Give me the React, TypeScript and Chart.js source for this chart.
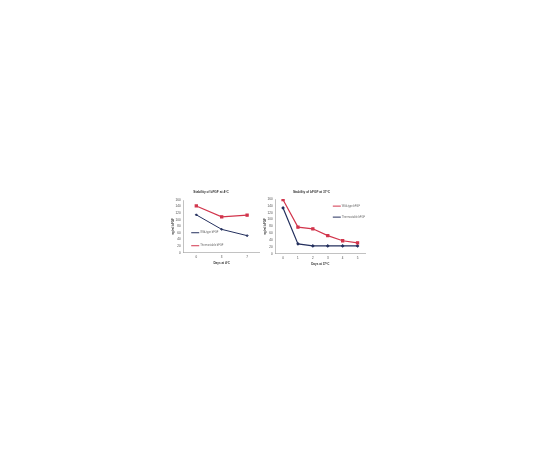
import React, { useEffect, useRef } from "react";
import { Chart, registerables } from "chart.js";

Chart.register(...registerables);

// Left chart (4°C)
const daysCold = ["0", "3", "7"];
const coldSeriesA = [115, 71, 52]; // dark line
const coldSeriesB = [142, 109, 114]; // red line
const coldLabelA = "Wild-type bFGF";
const coldLabelB = "Thermostable bFGF";
const coldTitle = "Stability of bFGF at 4°C";
const coldXTitle = "Days at 4°C";

// Right chart (37°C)
const daysWarm = ["0", "1", "2", "3", "4", "5"];
const warmSeriesA = [158, 78, 73, 53, 38, 32]; // red line
const warmSeriesB = [134, 29, 23, 23, 23, 23]; // blue line
const warmLabelA = "Wild-type bFGF";
const warmLabelB = "Thermostable bFGF";
const warmTitle = "Stability of bFGF at 37°C";
const warmXTitle = "Days at 37°C";

const yTitle = "ng/ml bFGF";

const RED = "#d2354c";
const NAVY = "#24305e";
const FONT = "Liberation Sans, Arial, sans-serif";

function decorations(title: string, titleX: number, titleY: number, posX: number, posY: number, gap: number) {
  return {
    id: "decorations",
    afterDraw(chart: any) {
      const { ctx, chartArea } = chart;
      ctx.save();
      // title
      ctx.font = `bold 3.2px ${FONT}`;
      ctx.fillStyle = "#333";
      ctx.textAlign = "center";
      ctx.textBaseline = "middle";
      ctx.fillText(title, titleX, titleY);
      // legend inside plot
      const x0 = chartArea.left + (chartArea.right - chartArea.left) * posX;
      let y = chartArea.top + (chartArea.bottom - chartArea.top) * posY;
      ctx.font = `2.6px ${FONT}`;
      ctx.textAlign = "left";
      chart.data.datasets.forEach((ds: any) => {
        ctx.strokeStyle = ds.borderColor;
        ctx.lineWidth = 1;
        ctx.beginPath();
        ctx.moveTo(x0, y);
        ctx.lineTo(x0 + 8, y);
        ctx.stroke();
        ctx.fillStyle = "#666";
        ctx.fillText(ds.label, x0 + 9, y);
        y += gap;
      });
      ctx.restore();
    },
  };
}

function makeConfig(opts: any) {
  return {
    type: "line",
    data: {
      labels: opts.labels,
      datasets: opts.datasets,
    },
    options: {
      animation: false,
      responsive: true,
      maintainAspectRatio: false,
      layout: { padding: opts.padding },
      plugins: {
        legend: { display: false },
        tooltip: { enabled: false },
        title: { display: false },
      },
      scales: {
        x: {
          offset: true,
          grid: { display: false, drawTicks: true, tickLength: 2 },
          border: { color: "#999", width: 0.6 },
          ticks: { color: "#444", font: { family: FONT, size: 3 }, padding: 1 },
          title: {
            display: true,
            text: opts.xTitle,
            color: "#333",
            font: { family: FONT, size: 3, weight: "bold" },
            padding: { top: 1, bottom: 0 },
          },
        },
        y: {
          min: 0,
          max: opts.max,
          grid: { display: false, drawTicks: true, tickLength: 2 },
          border: { color: "#999", width: 0.6 },
          ticks: {
            stepSize: 20,
            autoSkip: false,
            color: "#444",
            font: { family: FONT, size: 3 },
            padding: 1,
          },
          title: {
            display: true,
            text: yTitle,
            color: "#333",
            font: { family: FONT, size: 3, weight: "bold" },
            padding: 0,
          },
        },
      },
    },
    plugins: [opts.deco],
  };
}

function ChartBox(props: { style: React.CSSProperties; config: any }) {
  const ref = useRef<HTMLCanvasElement | null>(null);
  useEffect(() => {
    if (!ref.current) return;
    const chart = new Chart(ref.current, props.config);
    return () => chart.destroy();
  }, []);
  return (
    <div style={{ position: "absolute", ...props.style }}>
      <canvas ref={ref} />
    </div>
  );
}

export default function App() {
  // left container at (165,187), size 100x80
  const leftConfig = makeConfig({
    labels: daysCold,
    xTitle: coldXTitle,
    max: 160,
    padding: { left: 6, right: 4, top: 13, bottom: 2 },
    deco: decorations(coldTitle, 211 - 165, 192.5 - 187, 0.1, 0.62, 13),
    datasets: [
      {
        label: coldLabelA,
        data: coldSeriesA,
        borderColor: NAVY,
        backgroundColor: NAVY,
        borderWidth: 1,
        pointStyle: "rectRot",
        pointRadius: 1,
        tension: 0,
      },
      {
        label: coldLabelB,
        data: coldSeriesB,
        borderColor: RED,
        backgroundColor: RED,
        borderWidth: 1.2,
        pointStyle: "rect",
        pointRadius: 1.5,
        tension: 0,
      },
    ],
  });

  // right container at (261,186), size 130x82
  const rightConfig = makeConfig({
    labels: daysWarm,
    xTitle: warmXTitle,
    max: 160,
    padding: { left: 2, right: 26, top: 13, bottom: 2 },
    deco: decorations(warmTitle, 311.5 - 261, 192 - 186, 0.64, 0.13, 11),
    datasets: [
      {
        label: warmLabelA,
        data: warmSeriesA,
        borderColor: RED,
        backgroundColor: RED,
        borderWidth: 1.2,
        pointStyle: "rect",
        pointRadius: 1.5,
        tension: 0,
      },
      {
        label: warmLabelB,
        data: warmSeriesB,
        borderColor: NAVY,
        backgroundColor: NAVY,
        borderWidth: 1.2,
        pointStyle: "rectRot",
        pointRadius: 1,
        tension: 0,
      },
    ],
  });

  return (
    <div style={{ position: "relative", width: 540, height: 450, margin: -8, background: "#fff" }}>
      <ChartBox style={{ left: 165, top: 187, width: 100, height: 80 }} config={leftConfig} />
      <ChartBox style={{ left: 261, top: 186, width: 130, height: 82 }} config={rightConfig} />
    </div>
  );
}
